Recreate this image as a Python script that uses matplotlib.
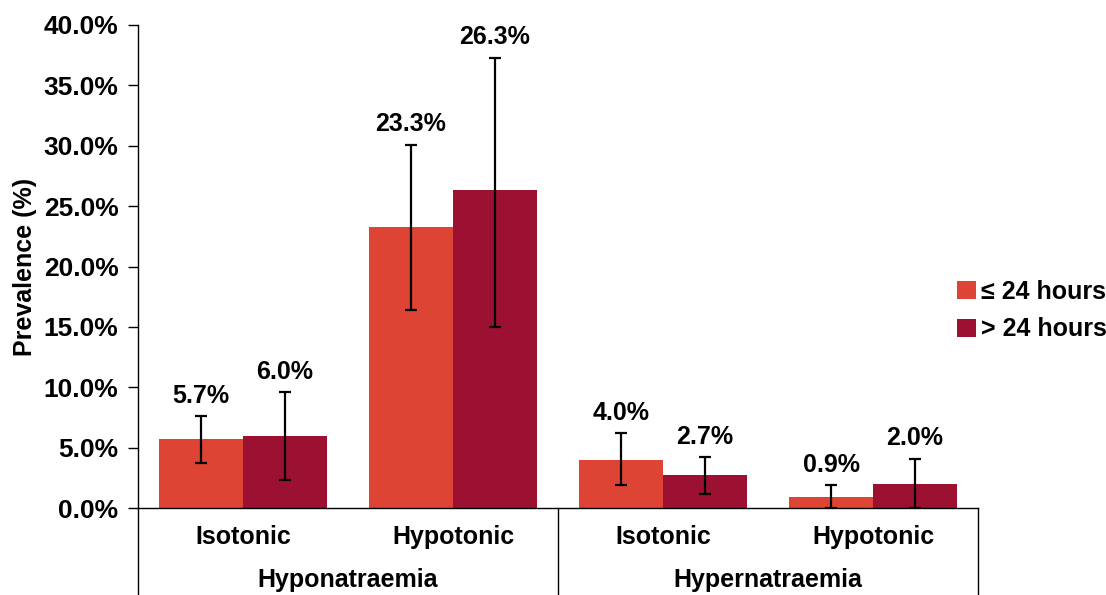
import numpy as np
import matplotlib
matplotlib.use('Agg')
from matplotlib import pyplot as plt
from matplotlib.ticker import FuncFormatter

plt.rcParams['font.family'] = ['Liberation Sans', 'DejaVu Sans']
plt.rcParams['font.weight'] = 'bold'

# prevalence by sodium disorder / fluid type
subtypes = ['Isotonic', 'Hypotonic', 'Isotonic', 'Hypotonic']
groups = ['Hyponatraemia', 'Hypernatraemia']
series_names = ['\u2264 24 hours', '> 24 hours']
short_vals = [5.7, 23.3, 4.0, 0.9]
long_vals = [6.0, 26.3, 2.7, 2.0]
short_lo = [3.7, 16.4, 1.9, 0.0]
short_hi = [7.6, 30.1, 6.2, 1.9]
long_lo = [2.3, 15.0, 1.2, 0.0]
long_hi = [9.6, 37.3, 4.2, 4.1]

colors = ['#DD4433', '#9C1131']
fs = 18

fig = plt.figure(figsize=(11.06, 5.95), dpi=100)
ax = fig.add_axes([0.1248, 0.1462, 0.7595, 0.8118])

x = np.arange(len(subtypes))
w = 0.4
vals = [short_vals, long_vals]
los = [short_lo, long_lo]
his = [short_hi, long_hi]
for k in range(2):
    xs = x + (k - 0.5) * w
    v = np.array(vals[k])
    err = np.vstack([v - np.array(los[k]), np.array(his[k]) - v])
    ax.bar(xs, v, width=w, color=colors[k], label=series_names[k], zorder=2)
    ax.errorbar(xs, v, yerr=err, fmt='none', ecolor='black', elinewidth=1.6,
                capsize=4, capthick=1.6, zorder=3)
    for xi, vi, hi in zip(xs, v, his[k]):
        ax.annotate('%.1f%%' % vi, (xi, hi), xytext=(0, 6), textcoords='offset points',
                    ha='center', va='bottom', fontsize=fs, fontweight='bold')

ax.set_xlim(-0.5, len(subtypes) - 0.5)
ax.set_ylim(0, 40)
ax.set_yticks(np.arange(0, 40.1, 5))
ax.yaxis.set_major_formatter(FuncFormatter(lambda v, p: '%.1f%%' % v))
ax.tick_params(axis='y', direction='out', length=7, width=1, labelsize=19, pad=7)
ax.set_xticks([])
ax.spines['top'].set_visible(False)
ax.spines['right'].set_visible(False)
ax.spines['left'].set_linewidth(1)
ax.spines['bottom'].set_linewidth(1)
ax.set_ylabel('Prevalence (%)', fontsize=fs, fontweight='bold')
ax.yaxis.set_label_coords(-0.12, 0.5)

# two-level category axis
tr = ax.get_xaxis_transform()
for xi, name in zip(x, subtypes):
    ax.text(xi, -0.06, name, transform=tr, ha='center', va='center', fontsize=fs, fontweight='bold')
for gi, g in enumerate(groups):
    ax.text(gi * 2 + 0.5, -0.149, g, transform=tr, ha='center', va='center', fontsize=fs, fontweight='bold')
for xb in [-0.5, 1.5, 3.5]:
    ax.plot([xb, xb], [0, -0.185], transform=tr, color='black', lw=1, clip_on=False)

fig.legend(*ax.get_legend_handles_labels(), loc='center left', bbox_to_anchor=(957 / 1106, 0.478),
           frameon=False, fontsize=fs, borderpad=0, borderaxespad=0,
           handlelength=0.75, handleheight=0.75, handletextpad=0.2, labelspacing=0.55)

fig.savefig('out.png', dpi=100)
